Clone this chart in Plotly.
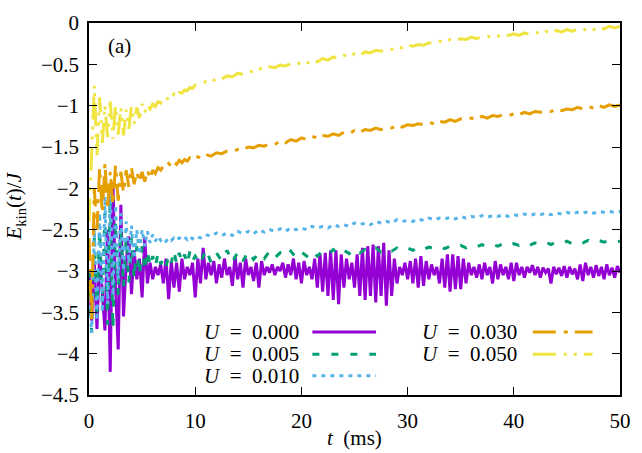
import numpy as np
import plotly.graph_objects as go

# ---------------- data ----------------
t_fine = np.arange(0, 50.001, 0.25)  # sampling grid for U=0.000
t_grid = np.concatenate([np.arange(0, 10.001, 0.25), np.arange(10.5, 50.001, 0.5)])

E_U0000 = [
    -3.00, -3.60, -2.90, -3.70,
    -2.80, -3.30, -3.72, -2.50,
    -4.22, -1.93, -3.20, -3.95,
    -2.20, -3.55, -2.90, -2.58,
    -3.28, -2.75, -3.10, -2.85,
    -3.32, -2.60, -3.15, -2.90,
    -3.10, -2.95, -3.05, -2.92,
    -3.15, -2.85, -3.34, -2.88,
    -3.20, -2.90, -3.25, -2.85,
    -3.10, -2.95, -3.05, -2.90,
    -3.32, -2.85, -3.15, -2.72,
    -3.10, -2.90, -3.05, -2.88,
    -3.15, -2.92, -3.08, -2.85,
    -3.05, -2.95, -3.18, -2.82,
    -3.10, -2.90, -3.20, -2.85,
    -3.05, -2.95, -3.12, -2.90,
    -3.20, -2.88, -3.05, -2.95,
    -3.02, -2.92, -3.05, -2.95,
    -3.00, -2.90, -3.08, -2.92,
    -3.05, -2.85, -3.10, -2.90,
    -3.15, -2.88, -3.05, -2.95,
    -3.10, -2.85, -3.20, -2.80,
    -3.25, -2.78, -3.30, -2.75,
    -3.35, -2.75, -3.40, -2.80,
    -3.20, -2.85, -3.10, -2.90,
    -3.20, -2.80, -3.30, -2.72,
    -3.35, -2.70, -3.30, -2.68,
    -3.38, -2.70, -3.30, -2.66,
    -3.42, -2.75, -3.30, -2.85,
    -3.15, -2.95, -3.05, -2.90,
    -3.10, -2.88, -3.15, -2.85,
    -3.20, -2.82, -3.18, -2.88,
    -3.10, -2.92, -3.05, -2.95,
    -3.15, -2.85, -3.20, -2.80,
    -3.25, -2.80, -3.22, -2.82,
    -3.22, -2.85, -3.15, -2.90,
    -3.05, -2.95, -3.08, -2.92,
    -3.10, -2.90, -3.05, -2.95,
    -3.15, -2.88, -3.10, -2.92,
    -3.05, -2.95, -3.10, -2.90,
    -3.12, -2.90, -3.05, -2.95,
    -3.08, -2.95, -3.02, -2.93,
    -3.05, -2.95, -3.08, -2.96,
    -3.02, -2.97, -3.15, -2.95,
    -3.04, -2.96, -3.06, -2.94,
    -3.08, -2.95, -3.04, -2.97,
    -3.10, -2.92, -3.12, -2.90,
    -3.05, -2.95, -3.08, -2.93,
    -3.06, -2.95, -3.10, -2.92,
    -3.05, -2.96, -3.08, -2.94,
    -3.02,
]

E_U0005 = [
    -3.00, -3.75, -2.60, -3.50,
    -2.50, -3.40, -2.30, -3.65,
    -2.10, -3.70, -2.40, -3.30,
    -2.50, -3.20, -2.60, -3.15,
    -2.60, -3.10, -2.70, -3.05,
    -2.70, -3.00, -2.75, -2.95,
    -2.82, -2.95, -2.78, -2.92,
    -2.85, -2.95, -2.80, -2.90,
    -2.75, -2.92, -2.78, -2.90,
    -2.80, -2.92, -2.76, -2.88,
    -2.82,
    -2.92, -2.73, -2.90, -2.78, -2.88, -2.75, -2.90, -2.77, -2.88, -2.76,
    -2.86, -2.78, -2.85, -2.76, -2.84, -2.78, -2.83, -2.76, -2.84, -2.77,
    -2.82, -2.75, -2.82, -2.76, -2.80, -2.74, -2.80, -2.75, -2.79, -2.73,
    -2.78, -2.74, -2.77, -2.72, -2.77, -2.73, -2.76, -2.72, -2.75, -2.72,
    -2.75, -2.71, -2.74, -2.71, -2.73, -2.70, -2.73, -2.70, -2.72, -2.69,
    -2.72, -2.69, -2.71, -2.68, -2.71, -2.68, -2.70, -2.67, -2.70, -2.67,
    -2.69, -2.66, -2.69, -2.66, -2.68, -2.65, -2.68, -2.65, -2.67, -2.64,
    -2.67, -2.64, -2.66, -2.63, -2.66, -2.63, -2.65, -2.63, -2.65, -2.64,
]

E_U0010 = [
    -3.20, -3.75, -2.50, -3.60,
    -2.30, -3.50, -2.10, -3.40,
    -1.98, -3.30, -2.20, -3.10,
    -2.30, -3.00, -2.40, -2.90,
    -2.45, -2.85, -2.50, -2.80,
    -2.50, -2.70, -2.52, -2.66,
    -2.56, -2.64, -2.58, -2.63,
    -2.60, -2.64, -2.60, -2.63,
    -2.60, -2.63, -2.60, -2.62,
    -2.59, -2.62, -2.58, -2.61,
    -2.58,
    -2.60, -2.56, -2.58, -2.54, -2.57, -2.54, -2.57, -2.52, -2.55, -2.52,
    -2.55, -2.50, -2.53, -2.50, -2.52, -2.49, -2.52, -2.48, -2.50, -2.48,
    -2.50, -2.46, -2.48, -2.46, -2.48, -2.44, -2.46, -2.44, -2.46, -2.42,
    -2.44, -2.42, -2.44, -2.40, -2.42, -2.40, -2.42, -2.38, -2.40, -2.39,
    -2.40, -2.37, -2.39, -2.36, -2.38, -2.36, -2.37, -2.35, -2.37, -2.34,
    -2.36, -2.34, -2.35, -2.33, -2.35, -2.33, -2.34, -2.32, -2.34, -2.32,
    -2.33, -2.31, -2.33, -2.31, -2.32, -2.30, -2.32, -2.30, -2.31, -2.29,
    -2.31, -2.29, -2.30, -2.28, -2.30, -2.28, -2.29, -2.28, -2.29, -2.28,
]

E_U0030 = [
    -2.60, -3.60, -2.00, -2.50,
    -1.75, -2.30, -1.70, -2.25,
    -1.80, -2.20, -1.72, -2.15,
    -1.80, -2.05, -1.78, -1.98,
    -1.75, -1.95, -1.80, -1.92,
    -1.80, -1.92, -1.78, -1.88,
    -1.78, -1.82, -1.75, -1.78,
    -1.73, -1.75, -1.70, -1.73,
    -1.68, -1.71, -1.66, -1.69,
    -1.65, -1.67, -1.63, -1.65,
    -1.61,
    -1.63, -1.59, -1.61, -1.57, -1.58, -1.55, -1.56, -1.53, -1.53, -1.50,
    -1.51, -1.48, -1.49, -1.46, -1.47, -1.43, -1.45, -1.41, -1.43, -1.39,
    -1.41, -1.37, -1.39, -1.36, -1.37, -1.34, -1.36, -1.32, -1.34, -1.30,
    -1.32, -1.29, -1.30, -1.27, -1.29, -1.26, -1.27, -1.24, -1.26, -1.23,
    -1.24, -1.22, -1.23, -1.20, -1.22, -1.19, -1.20, -1.17, -1.19, -1.16,
    -1.17, -1.15, -1.16, -1.13, -1.15, -1.12, -1.13, -1.11, -1.12, -1.10,
    -1.11, -1.08, -1.10, -1.07, -1.08, -1.06, -1.07, -1.05, -1.06, -1.04,
    -1.05, -1.02, -1.04, -1.01, -1.03, -1.00, -1.02, -0.99, -1.01, -0.99,
]

E_U0050 = [
    -2.40, -1.50, -0.76, -1.60,
    -0.90, -1.45, -1.00, -1.38,
    -0.95, -1.40, -1.00, -1.35,
    -1.02, -1.36, -1.05, -1.28,
    -1.01, -1.22, -1.02, -1.15,
    -0.98, -1.08, -0.99, -1.04,
    -0.98, -1.01, -0.95, -0.97,
    -0.92, -0.95, -0.89, -0.91,
    -0.86, -0.89, -0.84, -0.85,
    -0.81, -0.82, -0.78, -0.79,
    -0.75,
    -0.75, -0.71, -0.72, -0.67, -0.68, -0.64, -0.65, -0.61, -0.62, -0.58,
    -0.59, -0.55, -0.56, -0.53, -0.54, -0.51, -0.52, -0.49, -0.51, -0.47,
    -0.49, -0.45, -0.47, -0.43, -0.45, -0.41, -0.43, -0.39, -0.41, -0.37,
    -0.39, -0.35, -0.36, -0.33, -0.34, -0.31, -0.32, -0.29, -0.30, -0.27,
    -0.28, -0.26, -0.27, -0.24, -0.25, -0.22, -0.23, -0.20, -0.21, -0.19,
    -0.20, -0.17, -0.19, -0.16, -0.17, -0.15, -0.16, -0.14, -0.15, -0.13,
    -0.15, -0.12, -0.14, -0.11, -0.13, -0.10, -0.12, -0.09, -0.11, -0.08,
    -0.10, -0.07, -0.09, -0.06, -0.08, -0.05, -0.07, -0.04, -0.06, -0.04,
]

labels = ["0.000", "0.005", "0.010", "0.030", "0.050"]
colors = ["#9400d3", "#009e73", "#56b4e9", "#e69f00", "#f0e442"]
dashes = ["solid", "7px,12px", "4px,5px", "23px,8px,4px,7px", "23px,8px,3px,7px,3px,7px"]

x_ticks = [0, 10, 20, 30, 40, 50]
y_ticks = [0, -0.5, -1, -1.5, -2, -2.5, -3, -3.5, -4, -4.5]
y_ticktext = ["0", "\u22120.5", "\u22121", "\u22121.5", "\u22122", "\u22122.5",
              "\u22123", "\u22123.5", "\u22124", "\u22124.5"]

series = [(t_fine, E_U0000), (t_grid, E_U0005), (t_grid, E_U0010),
          (t_grid, E_U0030), (t_grid, E_U0050)]

FONT = "Liberation Serif"

fig = go.Figure()
for (tx, ey), lab, col, dsh in zip(series, labels, colors, dashes):
    n = min(len(tx), len(ey))
    fig.add_trace(go.Scatter(x=tx[:n], y=ey[:n], mode="lines", name="U = " + lab,
                             line=dict(color=col, width=3, dash=dsh)))

# ---------------- layout ----------------
L, R, T, B = 89, 11, 11, 58
W, H = 642, 453
pw, ph = W - L - R, H - T - B

def px_x(p):
    return (p - L) / pw

def px_y(p):
    return (H - B - p) / ph

fig.update_layout(
    width=W, height=H,
    margin=dict(l=L, r=R, t=T, b=B),
    plot_bgcolor="white", paper_bgcolor="white",
    showlegend=False,
    font=dict(family=FONT, size=21, color="black"),
    xaxis=dict(range=[0, 50], tickmode="array", tickvals=x_ticks,
               ticks="inside", ticklen=8, tickwidth=1, tickcolor="black",
               showline=True, linewidth=1.5, linecolor="black", mirror="allticks",
               showgrid=False, zeroline=False, ticklabelstandoff=6),
    yaxis=dict(range=[-4.5, 0], tickmode="array", tickvals=y_ticks, ticktext=y_ticktext,
               ticks="inside", ticklen=8, tickwidth=1, tickcolor="black",
               showline=True, linewidth=1.5, linecolor="black", mirror="allticks",
               showgrid=False, zeroline=False, ticklabelstandoff=4),
)

annotations = [
    dict(text="(a)", x=px_x(120), y=px_y(35), xref="paper", yref="paper",
         showarrow=False, xanchor="center", yanchor="middle"),
    dict(text="<i>t</i>  (ms)", x=px_x(360), y=px_y(439), xref="paper", yref="paper",
         showarrow=False, xanchor="center", yanchor="middle"),
    dict(text="<i>E</i><sub>kin</sub>(<i>t</i>)/<i>J</i>", x=px_x(14), y=px_y(200),
         xref="paper", yref="paper", showarrow=False, textangle=-90,
         xanchor="center", yanchor="middle"),
]

# legend (text left, sample right, as in the original)
leg_pos = [(305, 317, 382, 330), (305, 317, 382, 353), (305, 317, 382, 375),
           (528, 542, 603, 330), (528, 542, 603, 353)]
shapes = []
for lab, col, dsh, (tx_r, s0, s1, yy) in zip(labels, colors, dashes, leg_pos):
    annotations.append(dict(text="<i>U</i>\u2002=\u2002" + lab, x=px_x(tx_r), y=px_y(yy),
                            xref="paper", yref="paper", showarrow=False,
                            xanchor="right", yanchor="middle"))
    shapes.append(dict(type="line", xref="paper", yref="paper",
                       x0=px_x(s0), x1=px_x(s1), y0=px_y(yy), y1=px_y(yy),
                       line=dict(color=col, width=3, dash=dsh)))

fig.update_layout(annotations=annotations, shapes=shapes)

fig.write_html("out.html", config={"displayModeBar": False},
               post_script="document.body.style.margin='0';")
